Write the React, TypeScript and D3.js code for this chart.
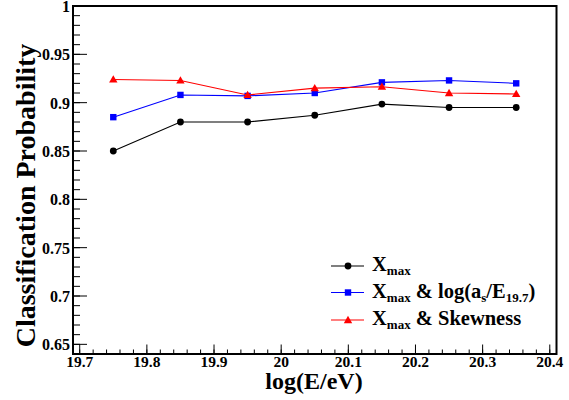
import React from "react";
import * as d3 from "d3";

const energies = [19.75, 19.85, 19.95, 20.05, 20.15, 20.25, 20.35];
const probXmax = [0.85, 0.88, 0.88, 0.887, 0.8985, 0.895, 0.895];
const probXmaxLog = [0.885, 0.908, 0.907, 0.91, 0.921, 0.923, 0.92];
const probXmaxSkew = [0.924, 0.923, 0.908, 0.915, 0.9165, 0.91, 0.909];
const xTickValues = [19.7, 19.8, 19.9, 20.0, 20.1, 20.2, 20.3, 20.4];
const yTickValues = [0.65, 0.7, 0.75, 0.8, 0.85, 0.9, 0.95, 1.0];

const W = 569;
const H = 400;
const L = 73;
const R = 556.5;
const T = 6;
const B = 354;
const FONT = '"Liberation Serif"';

const x = d3.scaleLinear().domain([19.69, 20.41]).range([L, R]);
const y = d3.scaleLinear().domain([0.64, 1.0]).range([B, T]);

type Series = { name: string; color: string; values: number[]; marker: "circle" | "square" | "triangle" };
const series: Series[] = [
  { name: "xmax", color: "#000000", values: probXmax, marker: "circle" },
  { name: "log", color: "#0000ff", values: probXmaxLog, marker: "square" },
  { name: "skew", color: "#ff0000", values: probXmaxSkew, marker: "triangle" },
];

function Marker({ kind, cx, cy, color }: { kind: string; cx: number; cy: number; color: string }) {
  if (kind === "circle") return <circle cx={cx} cy={cy} r={3.4} fill={color} />;
  if (kind === "square") return <rect x={cx - 3.2} y={cy - 3.2} width={6.4} height={6.4} fill={color} />;
  const s = 4.2;
  return (
    <path
      d={`M${cx},${cy - s}L${cx + s},${cy + s * 0.75}L${cx - s},${cy + s * 0.75}Z`}
      fill={color}
    />
  );
}

export default function App() {
  const line = d3
    .line<number>()
    .x((_, i) => x(energies[i]))
    .y((d) => y(d));

  const xMinor = d3.range(19.7, 20.41, 0.02).map((v) => +v.toFixed(2));
  const yMinor = d3.range(0.65, 1.001, 0.01).map((v) => +v.toFixed(2));

  const legendRows = [
    { s: series[0], y: 266 },
    { s: series[1], y: 292.5 },
    { s: series[2], y: 320 },
  ];

  const txt: React.CSSProperties = { fontFamily: FONT, fontWeight: "bold" };
  const MAIN = 20.5;
  const SUB = 13;

  return (
    <svg
      width={W}
      height={H}
      style={{ position: "fixed", left: 0, top: 0, background: "#fff" }}
    >
      <rect x={0} y={0} width={W} height={H} fill="#fff" />
      {xMinor.map((v, i) => (
        <line key={"xm" + i} x1={x(v)} x2={x(v)} y1={B} y2={B - 4.5} stroke="#000" strokeWidth={1} />
      ))}
      {xTickValues.map((v, i) => (
        <line key={"xM" + i} x1={x(v)} x2={x(v)} y1={B} y2={B - 9.5} stroke="#000" strokeWidth={1} />
      ))}
      {yMinor.map((v, i) => (
        <line key={"ym" + i} x1={L} x2={L + 7} y1={y(v)} y2={y(v)} stroke="#000" strokeWidth={1} />
      ))}
      {yTickValues.map((v, i) => (
        <line key={"yM" + i} x1={L} x2={L + 14} y1={y(v)} y2={y(v)} stroke="#000" strokeWidth={1} />
      ))}
      <rect x={L} y={T} width={R - L} height={B - T} fill="none" stroke="#000" strokeWidth={2} />
      {xTickValues.map((v, i) => (
        <text key={"xl" + i} x={x(v)} y={367} textAnchor="middle" fontSize={15.5} style={txt}>
          {d3.format("")(+v.toFixed(1))}
        </text>
      ))}
      {yTickValues.map((v, i) => (
        <text key={"yl" + i} x={70} y={y(v) + 6} textAnchor="end" fontSize={16} style={txt}>
          {d3.format("")(+v.toFixed(2))}
        </text>
      ))}
      <text x={314} y={389} textAnchor="middle" fontSize={24} style={txt}>
        log(E/eV)
      </text>
      <text
        transform={`translate(35,195.5) rotate(-90)`}
        textAnchor="middle"
        fontSize={28}
        style={txt}
      >
        Classification Probability
      </text>
      {series.map((s) => (
        <g key={s.name}>
          <path d={line(s.values) || ""} fill="none" stroke={s.color} strokeWidth={1.1} />
          {s.values.map((v, i) => (
            <Marker key={i} kind={s.marker} cx={x(energies[i])} cy={y(v)} color={s.color} />
          ))}
        </g>
      ))}
      {legendRows.map((r, i) => (
        <g key={"lg" + i}>
          <line x1={331} x2={364} y1={r.y} y2={r.y} stroke={r.s.color} strokeWidth={1.1} />
          <Marker kind={r.s.marker} cx={348} cy={r.y} color={r.s.color} />
        </g>
      ))}
      <text x={372} y={271} fontSize={MAIN} style={txt}>
        X<tspan fontSize={SUB} dy={4}>max</tspan>
      </text>
      <text x={372} y={297.5} fontSize={MAIN} style={txt}>
        X<tspan fontSize={SUB} dy={4}>max</tspan>
        <tspan dy={-4}> &amp; log(a</tspan>
        <tspan fontSize={SUB} dy={4}>s</tspan>
        <tspan dy={-4}>/E</tspan>
        <tspan fontSize={SUB} dy={4}>19.7</tspan>
        <tspan dy={-4}>)</tspan>
      </text>
      <text x={372} y={325} fontSize={MAIN} style={txt}>
        X<tspan fontSize={SUB} dy={4}>max</tspan>
        <tspan dy={-4}> &amp; Skewness</tspan>
      </text>
    </svg>
  );
}
